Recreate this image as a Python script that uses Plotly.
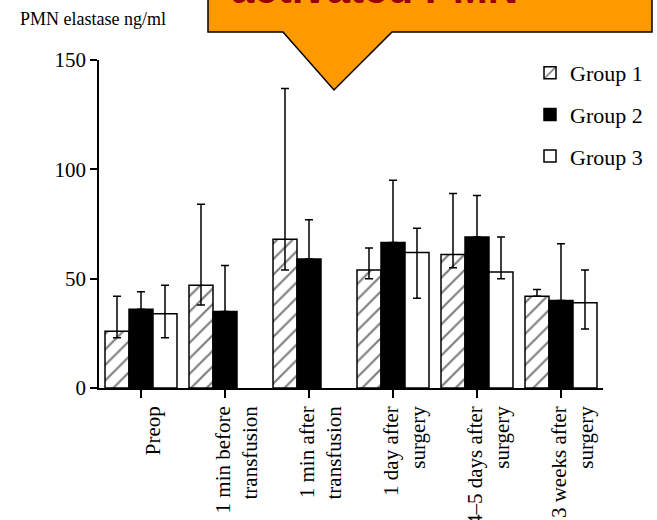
import plotly.graph_objects as go

# ---- data ----
categories = ["Preop", "1 min before<br>transfusion", "1 min after<br>transfusion",
              "1 day after<br>surgery", "4–5 days after<br>surgery", "3 weeks after<br>surgery"]
group1 = [26, 47, 68, 54, 61, 42]
group1_upper = [42, 84, 137, 64, 89, 45]
group1_lower = [23, 38, 54, 50, 55, 42]
group2 = [36, 35, 59, 66.5, 69, 40]
group2_upper = [44, 56, 77, 95, 88, 66]
group2_lower = [36, 35, 59, 66.5, 69, 40]
group3 = [34, None, None, 62, 53, 39]
group3_upper = [47, None, None, 73, 69, 54]
group3_lower = [23, None, None, 41, 50, 27]
y_ticks = [0, 50, 100, 150]

W, H = 657, 520
ML, MR, MT, MB = 99, 54, 60, 132
PW, PH = W - ML - MR, H - MT - MB


def px(x):
    return (x - ML) / PW


def py(y):
    return (H - MB - y) / PH


def err(v, hi, lo):
    plus = [None if a is None else b - a for a, b in zip(v, hi)]
    minus = [None if a is None else a - c for a, c in zip(v, lo)]
    return plus, minus


serif = "Liberation Serif"
fig = go.Figure()
specs = [
    ("Group 1", group1, group1_upper, group1_lower,
     dict(color="white", pattern=dict(shape="/", fgcolor="black", bgcolor="white", size=11, solidity=0.2))),
    ("Group 2", group2, group2_upper, group2_lower, dict(color="black")),
    ("Group 3", group3, group3_upper, group3_lower, dict(color="white")),
]
for i, (name, vals, hi, lo, mk) in enumerate(specs):
    plus, minus = err(vals, hi, lo)
    mk = dict(mk)
    mk["line"] = dict(color="black", width=1.5)
    fig.add_trace(go.Bar(
        x=categories, y=vals, name=name, marker=mk, legendgroup=f"g{i}",
        error_y=dict(type="data", symmetric=False, array=plus, arrayminus=minus,
                     color="black", thickness=1.5, width=4),
    ))

fig.update_layout(
    width=W, height=H, autosize=False,
    margin=dict(l=ML, r=MR, t=MT, b=MB, autoexpand=False),
    paper_bgcolor="white", plot_bgcolor="white",
    barmode="group", bargap=0.143, bargroupgap=0,
    font=dict(family=serif, size=21, color="black"),
    showlegend=True,
    legend=dict(x=px(530), y=py(52), xanchor="left", yanchor="top",
                font=dict(family=serif, size=22, color="black"),
                tracegroupgap=10, bgcolor="rgba(0,0,0,0)"),
    xaxis=dict(showline=True, linecolor="black", linewidth=1.5, ticks="outside",
               ticklen=8, tickwidth=1.5, tickcolor="black", tickangle=-90,
               showgrid=False, zeroline=False, range=[-0.5, 5.5], automargin=False,
               ticklabelshift=12, tickfont=dict(family=serif, size=21)),
    yaxis=dict(range=[0, 150], tickvals=y_ticks, showline=True, linecolor="black",
               linewidth=1.5, ticks="outside", ticklen=7, tickwidth=1.5, tickcolor="black",
               showgrid=False, zeroline=False, automargin=False,
               tickfont=dict(family=serif, size=21)),
)

# y-axis title placed horizontally at top-left
fig.add_annotation(text="PMN elastase ng/ml", xref="paper", yref="paper",
                   x=px(18), y=py(19), xanchor="left", yanchor="middle", showarrow=False,
                   font=dict(family=serif, size=18, color="black"))

# orange callout
pts = [(208, -10), (652, -10), (652, 32), (392, 32), (334, 90), (283, 32), (208, 32)]
path = "M " + " L ".join(f"{px(a):.5f},{py(b):.5f}" for a, b in pts) + " Z"
fig.add_shape(type="path", path=path, xref="paper", yref="paper",
              fillcolor="#FF9900", line=dict(color="black", width=1.5), layer="above")
fig.add_annotation(text="<b>activated PMN</b>", xref="paper", yref="paper",
                   x=px(229), y=py(-11), xanchor="left", yanchor="middle", showarrow=False,
                   font=dict(family="Liberation Sans", size=42, color="#990000"))

fig.write_html("out.html", config={"displayModeBar": False},
               post_script="document.body.style.margin='0';")
